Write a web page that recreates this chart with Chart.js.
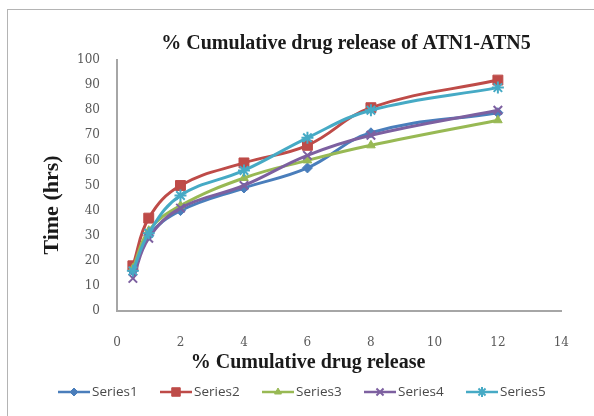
<!DOCTYPE html>
<html>
<head>
<meta charset="utf-8">
<script src="https://cdn.jsdelivr.net/npm/chart.js@4/dist/chart.umd.min.js"></script>
<style>
  html, body { margin: 0; padding: 0; background: #fff; }
  #wrap { position: relative; width: 594px; height: 416px; overflow: hidden; }
  #frame { position: absolute; left: 7px; top: 9px; width: 620px; height: 440px; border: 1px solid #b4b4b4; }
  canvas { position: absolute; left: 0; top: 0; }
</style>
</head>
<body>
<div id="wrap">
  <div id="frame"></div>
  <canvas id="c" width="594" height="416"></canvas>
</div>
<script>
// Sampling times and release values for the five formulations
const xValues = [0.5, 1, 2, 4, 6, 8, 12];
const series1 = [16, 30, 40, 49, 57, 71, 79];
const series2 = [18, 37, 50, 59, 66, 81, 92];
const series3 = [17, 32, 42, 53, 60, 66, 76];
const series4 = [13, 29, 41, 50, 62, 70, 80];
const series5 = [16, 31, 46, 56, 69, 80, 89];

const seriesNames = ['Series1', 'Series2', 'Series3', 'Series4', 'Series5'];
const seriesData = [series1, series2, series3, series4, series5];
const seriesColors = ['#4a7ebb', '#be4b48', '#98b954', '#7d60a0', '#46aac5'];
const seriesMarkers = ['rectRot', 'rect', 'triangle', 'crossRot', 'star'];
const markerRadius = [5, 7, 5, 6, 6];

const chartTitle = '% Cumulative drug release of ATN1-ATN5';
const xTitle = '% Cumulative drug release';
const yTitle = 'Time (hrs)';

const serif = '"Liberation Serif", "Times New Roman", serif';
const tickFont = '"DejaVu Serif", serif';

const datasets = seriesData.map((vals, i) => ({
  label: seriesNames[i],
  data: vals.map((v, j) => ({ x: xValues[j], y: v })),
  borderColor: seriesColors[i],
  backgroundColor: seriesColors[i],
  borderWidth: 3,
  pointStyle: seriesMarkers[i],
  pointRadius: markerRadius[i],
  pointBorderWidth: seriesMarkers[i] === 'crossRot' || seriesMarkers[i] === 'star' ? 2 : 1,
  pointBorderColor: seriesColors[i],
  pointBackgroundColor: seriesColors[i],
  tension: 0.4,
  showLine: true,
  order: seriesData.length - 1 - i
}));

// Titles and the line+marker legend, placed freely around the plot
const extras = {
  id: 'extras',
  afterDraw(chart) {
    const ctx = chart.ctx;
    ctx.save();
    ctx.fillStyle = '#1a1a1a';
    ctx.textAlign = 'center';
    ctx.textBaseline = 'middle';
    ctx.font = 'bold 20px ' + serif;
    ctx.fillText(chartTitle, 346, 44);
    ctx.fillText(xTitle, 308, 363);
    ctx.font = 'bold 22px ' + serif;
    ctx.translate(52, 205);
    ctx.rotate(-Math.PI / 2);
    ctx.fillText(yTitle, 0, 0);
    ctx.restore();

    const legendY = 392;
    const startX = 58;
    const step = 102;
    const lineLen = 32;
    ctx.save();
    ctx.font = '13.5px "Open Sans", sans-serif';
    ctx.textBaseline = 'middle';
    ctx.textAlign = 'left';
    seriesNames.forEach((name, i) => {
      const x0 = startX + step * i;
      ctx.strokeStyle = seriesColors[i];
      ctx.lineWidth = 2.5;
      ctx.beginPath();
      ctx.moveTo(x0, legendY);
      ctx.lineTo(x0 + lineLen, legendY);
      ctx.stroke();
      ctx.fillStyle = seriesColors[i];
      ctx.lineWidth = datasets[i].pointBorderWidth;
      Chart.helpers.drawPoint(ctx, { pointStyle: seriesMarkers[i], radius: markerRadius[i] - 1, rotation: 0, borderWidth: datasets[i].pointBorderWidth }, x0 + lineLen / 2, legendY);
      ctx.fillStyle = '#4a4a4a';
      ctx.fillText(name, x0 + lineLen + 2, legendY);
    });
    ctx.restore();
  }
};

new Chart(document.getElementById('c'), {
  type: 'scatter',
  data: { datasets },
  options: {
    responsive: false,
    animation: false,
    layout: { padding: { left: 0, right: 29, top: 60, bottom: 42 } },
    plugins: {
      legend: { display: false },
      tooltip: { enabled: false },
      title: { display: false }
    },
    scales: {
      x: {
        type: 'linear',
        min: 0,
        max: 14,
        afterFit(scale) { scale.height = 63; },
        ticks: { stepSize: 2, padding: 25, color: '#595959', font: { family: tickFont, size: 12 } },
        grid: { display: false, drawTicks: false },
        border: { display: true, color: '#a6a6a6', width: 2 }
      },
      y: {
        type: 'linear',
        min: 0,
        max: 100,
        afterFit(scale) { scale.width = 117; },
        ticks: { stepSize: 10, padding: 17, color: '#595959', font: { family: tickFont, size: 12 } },
        grid: { display: false, drawTicks: false },
        border: { display: true, color: '#a6a6a6', width: 2 }
      }
    }
  },
  plugins: [extras]
});
</script>
</body>
</html>
